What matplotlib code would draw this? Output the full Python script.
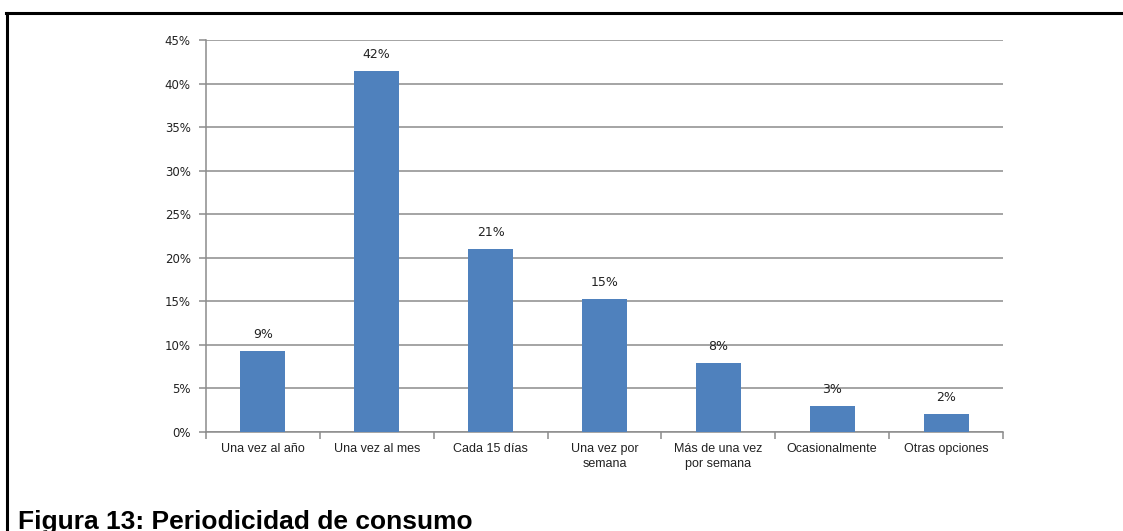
import matplotlib
matplotlib.use("Agg")
import matplotlib.pyplot as plt
from matplotlib.lines import Line2D
from matplotlib.ticker import FixedLocator, FuncFormatter

# frecuencia de consumo (porcentaje de encuestados)
categorias = ["Una vez al año", "Una vez al mes", "Cada 15 días",
              "Una vez por\nsemana", "Más de una vez\npor semana",
              "Ocasionalmente", "Otras opciones"]
porcentajes = [9.3, 41.5, 21.0, 15.3, 7.9, 3.0, 2.1]
yticks = [0, 5, 10, 15, 20, 25, 30, 35, 40, 45]
titulo = "Figura 13: Periodicidad de consumo"

azul = "#4F81BD"
gris = "#8C8C8C"

fig = plt.figure(figsize=(11.23, 5.31), dpi=100)
ax = fig.add_axes([0.1834, 0.1864, 0.7097, 0.7382])

x = list(range(len(categorias)))
ax.bar(x, porcentajes, width=0.395, color=azul, zorder=3)

# etiquetas de valor redondeadas
for xi, v in zip(x, porcentajes):
    ax.annotate(f"{int(v + 0.5)}%", (xi, v), xytext=(0, 7), textcoords="offset points",
                ha="center", va="bottom", fontsize=9, family="DejaVu Sans", color="#222222")

ax.set_xlim(-0.5, len(categorias) - 0.5)
ax.set_ylim(0, 45)
ax.set_yticks(yticks)
ax.yaxis.set_major_formatter(FuncFormatter(lambda v, p: f"{int(v)}%"))
ax.grid(axis="y", color=gris, linewidth=1.1, zorder=0)
ax.set_axisbelow(True)

ax.set_xticks(x)
ax.set_xticklabels(categorias, fontsize=9, family="Liberation Sans", color="#222222", linespacing=1.3)
ax.xaxis.set_minor_locator(FixedLocator([i - 0.5 for i in range(len(categorias) + 1)]))
ax.tick_params(axis="x", which="major", length=0, pad=8)
ax.tick_params(axis="x", which="minor", length=5, color=gris, width=1.1)
ax.tick_params(axis="y", length=5, color=gris, width=1.1, labelsize=8.5, labelcolor="#222222", pad=6)

for s in ["top", "right"]:
    ax.spines[s].set_visible(False)
for s in ["left", "bottom"]:
    ax.spines[s].set_color(gris)
    ax.spines[s].set_linewidth(1.1)

# marco del documento
fig.add_artist(Line2D([6 / 1123, 1.0], [1 - 13 / 531, 1 - 13 / 531], color="black", linewidth=2.2,
                      transform=fig.transFigure))
fig.add_artist(Line2D([7 / 1123, 7 / 1123], [0, 1 - 13 / 531], color="black", linewidth=2.2,
                      transform=fig.transFigure))

fig.text(18 / 1123, 2 / 531, titulo, fontsize=19, fontweight="bold", family="Liberation Sans",
         ha="left", va="baseline", color="black")

fig.savefig("out.png", dpi=100)
